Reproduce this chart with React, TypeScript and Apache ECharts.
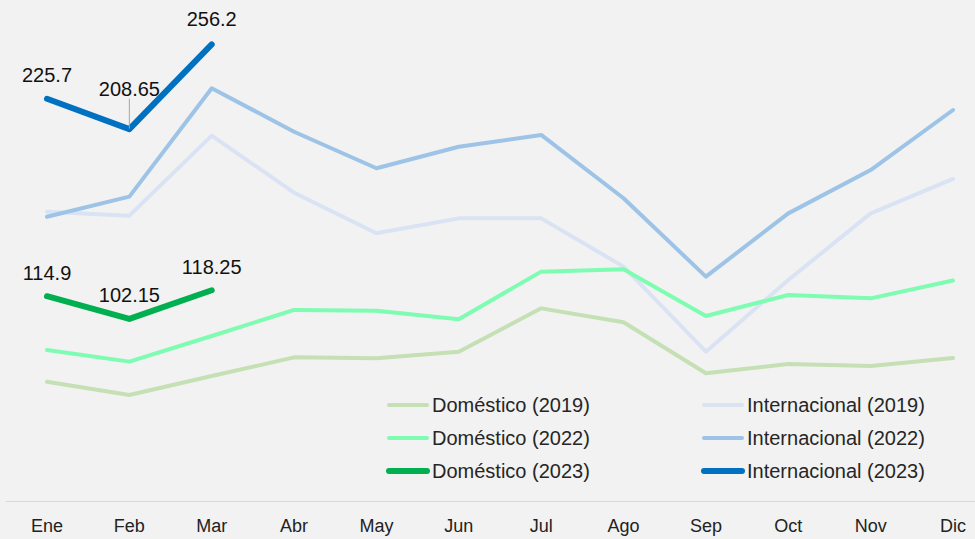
import React, { useEffect, useRef } from "react";
import * as echarts from "echarts";

const months = ["Ene", "Feb", "Mar", "Abr", "May", "Jun", "Jul", "Ago", "Sep", "Oct", "Nov", "Dic"];
const dom2019 = [66.9, 59.5, 70.1, 80.6, 80.1, 83.8, 108.1, 100.3, 71.7, 76.9, 75.8, 80.2];
const dom2022 = [84.7, 78.2, 92.6, 107.2, 106.8, 102.0, 128.7, 130.0, 103.8, 115.6, 113.7, 123.7];
const dom2023 = [114.9, 102.15, 118.25];
const int2019 = [162.3, 160.1, 205.0, 173.0, 150.2, 158.6, 158.6, 131.5, 83.8, 124.0, 161.4, 180.7];
const int2022 = [159.5, 170.8, 231.6, 207.2, 186.7, 198.8, 205.4, 169.9, 125.9, 161.4, 185.7, 219.4];
const int2023 = [225.7, 208.65, 256.2];

const FONT = "Liberation Sans, Arial, sans-serif";

export default function App() {
  const ref = useRef<HTMLDivElement>(null);
  useEffect(() => {
    if (!ref.current) return;
    const chart = echarts.init(ref.current, null, { renderer: "svg" });
    const labelTop = {
      show: true,
      position: "top",
      distance: 13,
      fontSize: 20,
      fontFamily: FONT,
      color: "#111",
    };
    const mk = (name: string, data: any[], color: string, width: number, label?: any, extra?: any) => ({
      name,
      type: "line",
      data,
      symbol: label ? "circle" : "none",
      symbolSize: 1,
      showSymbol: !!label,
      lineStyle: { color, width, cap: "round", join: "round" },
      itemStyle: { color },
      label: label || { show: false },
      emphasis: { disabled: true },
      ...(extra || {}),
    });
    const legendBase = {
      orient: "vertical",
      top: 395,
      padding: 0,
      itemWidth: 38,
      itemHeight: 14,
      itemGap: 13,
      itemTextGap: 2,
      itemStyle: { opacity: 0 },
      lineStyle: { width: "inherit", cap: "round" },
      textStyle: { fontSize: 20, fontFamily: FONT, color: "#262626" },
    };
    chart.setOption({
      animation: false,
      backgroundColor: "#f2f2f2",
      grid: { left: 5.8, right: -19.2, top: 2, bottom: 38, containLabel: false, outerBoundsMode: "none" },
      xAxis: {
        type: "category",
        data: months,
        boundaryGap: true,
        axisLine: { show: true, lineStyle: { color: "#d9d9d9", width: 1 } },
        axisTick: { show: false },
        axisLabel: { fontSize: 18, fontFamily: FONT, color: "#222", margin: 16 },
      },
      yAxis: { type: "value", min: 0, max: 280, show: false, splitLine: { show: false } },
      legend: [
        { ...legendBase, left: 386, data: ["Doméstico (2019)", "Doméstico (2022)", "Doméstico (2023)"] },
        { ...legendBase, left: 701, data: ["Internacional (2019)", "Internacional (2022)", "Internacional (2023)"] },
      ],
      series: [
        mk("Internacional (2019)", int2019, "#dae3f3", 4),
        mk("Doméstico (2019)", dom2019, "#c5e0b4", 4),
        mk("Internacional (2022)", int2022, "#9dc3e6", 4),
        mk("Doméstico (2022)", dom2022, "#7dfcb2", 4),
        mk("Doméstico (2023)", dom2023, "#00b050", 6, labelTop),
        mk(
          "Internacional (2023)",
          int2023.map((v, i) =>
            i === 1
              ? { value: v, labelLine: { show: true, lineStyle: { color: "#a6a6a6", width: 1 } } }
              : i === 2
              ? { value: v, label: { distance: 15 } }
              : { value: v }
          ),
          "#0070c0",
          6,
          labelTop,
          {
            labelLayout: (p: any) => (p.dataIndex === 1 ? { dy: -17 } : {}),
          }
        ),
      ],
    });
    return () => chart.dispose();
  }, []);
  return (
    <div
      ref={ref}
      style={{ position: "absolute", left: 0, top: 0, width: 975, height: 539, background: "#f2f2f2" }}
    />
  );
}
